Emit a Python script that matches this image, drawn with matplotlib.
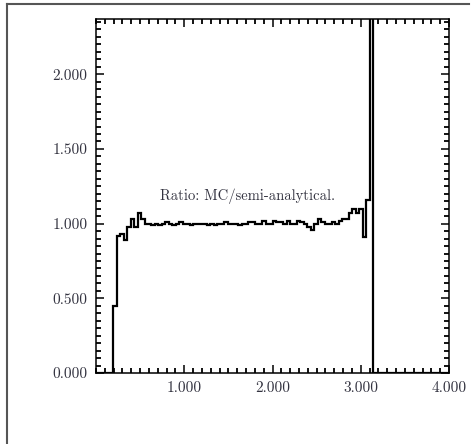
import numpy as np
import matplotlib
matplotlib.use("Agg")
import matplotlib.pyplot as plt
from matplotlib.ticker import MultipleLocator, FormatStrFormatter
from matplotlib.lines import Line2D

plt.rcParams['font.family'] = ['cmr10', 'DejaVu Serif']
plt.rcParams['axes.unicode_minus'] = False
plt.rcParams['mathtext.fontset'] = 'cm'

# ---- data (ratio per bin, 80 bins over [0, pi]) ----
n_bins = 80
x_min, x_max = 0.0, np.pi
ratio = [
    0.00, 0.00, 0.00, 0.00, 0.00, 0.45, 0.92, 0.93, 0.89, 0.98,
    1.03, 0.98, 1.07, 1.03, 1.00, 1.00, 0.99, 1.00, 0.99, 1.00,
    1.01, 1.00, 0.99, 1.00, 1.01, 1.00, 1.00, 0.99, 1.00, 1.00,
    1.00, 1.00, 0.99, 1.00, 0.99, 1.00, 1.00, 1.01, 1.00, 1.00,
    1.00, 0.99, 1.00, 1.00, 1.01, 1.01, 1.00, 1.00, 1.02, 1.00,
    1.00, 1.02, 1.01, 1.01, 1.00, 1.02, 1.00, 1.00, 1.02, 1.01,
    1.00, 0.98, 0.96, 1.00, 1.03, 1.01, 1.00, 1.00, 1.01, 1.00,
    1.02, 1.03, 1.03, 1.07, 1.10, 1.07, 1.10, 0.91, 1.16, 2.80,
]
x_ticks = [1.0, 2.0, 3.0, 4.0]
y_ticks = [0.0, 0.5, 1.0, 1.5, 2.0]
label_text = "Ratio: MC/semi-analytical."

edges = np.linspace(x_min, x_max, n_bins + 1)

W, H = 472, 444
fig = plt.figure(figsize=(W / 100, H / 100), dpi=100)
ax = fig.add_axes([96 / W, 71 / H, 353 / W, 354 / H])

ax.stairs(ratio, edges, baseline=0, color='black', linewidth=1.6)
ax.plot([x_max, 4.0], [0, 0], color='black', linewidth=1.6)

ax.set_xlim(0, 4.0)
ax.set_ylim(0, 2.37)

ax.set_xticks(x_ticks)
ax.set_yticks(y_ticks)
ax.xaxis.set_major_formatter(FormatStrFormatter('%.3f'))
ax.yaxis.set_major_formatter(FormatStrFormatter('%.3f'))
ax.xaxis.set_minor_locator(MultipleLocator(0.1))
ax.yaxis.set_minor_locator(MultipleLocator(0.05))
ax.tick_params(which='both', direction='in', top=True, right=True,
               colors='black', labelcolor='#333340', labelsize=11)
ax.tick_params(which='major', length=6, width=1.1, pad=6)
ax.tick_params(which='minor', length=3.5, width=1.3)
for s in ax.spines.values():
    s.set_linewidth(1.1)

ax.text(1.72, 1.18, label_text, ha='center', va='center', fontsize=10.5,
        color='#333340')

# outer frame (top and left edges)
fig.add_artist(Line2D([7 / W, 469 / W], [1 - 4 / H, 1 - 4 / H],
                      transform=fig.transFigure, color='#555555', linewidth=1.5))
fig.add_artist(Line2D([7 / W, 7 / W], [0, 1 - 4 / H],
                      transform=fig.transFigure, color='#555555', linewidth=1.5))

fig.savefig('out.png', dpi=100)
